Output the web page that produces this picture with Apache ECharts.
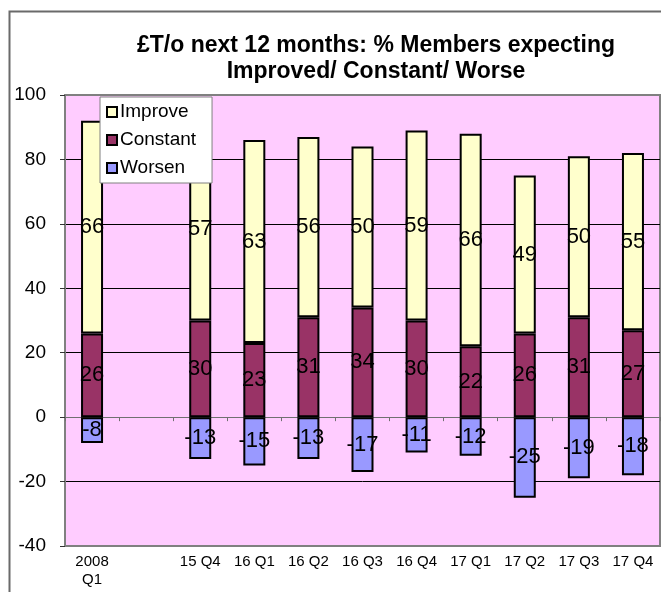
<!DOCTYPE html>
<html>
<head>
<meta charset="utf-8">
<script src="https://cdn.jsdelivr.net/npm/echarts@6/dist/echarts.min.js"></script>
<style>
  html, body { margin: 0; padding: 0; background: #ffffff; }
  #chart { width: 661px; height: 592px; }
</style>
</head>
<body>
<div id="chart"></div>
<script>
// Quarterly survey: share of members expecting turnover to improve / stay constant / worsen
const categories = ['2008\nQ1', '', '15 Q4', '16 Q1', '16 Q2', '16 Q3', '16 Q4', '17 Q1', '17 Q2', '17 Q3', '17 Q4'];
const improve  = [66, null, 57, 63, 56, 50, 59, 66, 49, 50, 55];
const constant = [26, null, 30, 23, 31, 34, 30, 22, 26, 31, 27];
const worsen   = [-8, null, -13, -15, -13, -17, -11, -12, -25, -19, -18];
const yTicks = { min: -40, max: 100, step: 20 };

const FONT = '"Liberation Sans", Arial, sans-serif';

const chart = echarts.init(document.getElementById('chart'), null, { renderer: 'canvas' });

const segLabel = {
  show: true,
  position: 'inside',
  color: '#000',
  fontFamily: FONT,
  fontSize: 22
};

function barSeries(name, data, fill) {
  return {
    name: name,
    type: 'bar',
    stack: 'total',
    data: data,
    barWidth: 22,
    itemStyle: { color: fill, borderColor: '#000', borderWidth: 2 },
    label: segLabel,
    emphasis: { disabled: true },
    animation: false
  };
}

chart.setOption({
  animation: false,
  textStyle: { fontFamily: FONT },
  title: {
    text: '£T/o next 12 months: % Members expecting\nImproved/ Constant/ Worse',
    left: 376,
    top: 33,
    padding: 0,
    textAlign: 'center',
    textStyle: { fontFamily: FONT, fontSize: 23, fontWeight: 'bold', color: '#000', lineHeight: 26 }
  },
  legend: {
    data: ['Improve', 'Constant', 'Worsen'],
    orient: 'vertical',
    left: 100,
    top: 97,
    padding: [5, 16, 5, 6],
    itemGap: 8,
    itemWidth: 10,
    itemHeight: 10,
    icon: 'rect',
    backgroundColor: '#ffffff',
    borderColor: '#808080',
    borderWidth: 1,
    borderRadius: 0,
    selectedMode: false,
    itemStyle: { borderColor: '#000', borderWidth: 2 },
    textStyle: { fontFamily: FONT, fontSize: 19, color: '#000', lineHeight: 20, padding: [0, 0, 0, -2] }
  },
  grid: {
    left: 65,
    right: 1,
    top: 95,
    bottom: 46,
    show: true,
    backgroundColor: '#ffccff',
    borderColor: '#808080',
    borderWidth: 2,
    containLabel: false
  },
  xAxis: [
    {
      type: 'category',
      data: categories,
      position: 'bottom',
      axisLine: { show: false, onZero: false },
      axisTick: { show: false },
      axisLabel: {
        interval: 0,
        margin: 7,
        fontFamily: FONT,
        fontSize: 15,
        lineHeight: 18,
        color: '#000'
      },
      splitLine: { show: false }
    },
    {
      // zero line with category divider ticks
      type: 'category',
      data: categories,
      position: 'top',
      axisLine: { show: true, onZero: true, lineStyle: { color: '#707070', width: 1 } },
      axisTick: { show: true, inside: true, length: 4, lineStyle: { color: '#707070' } },
      axisLabel: { show: false },
      splitLine: { show: false }
    }
  ],
  yAxis: {
    type: 'value',
    min: yTicks.min,
    max: yTicks.max,
    interval: yTicks.step,
    axisLine: { show: true, lineStyle: { color: '#808080', width: 2 } },
    axisTick: { show: true, length: 5, lineStyle: { color: '#333' } },
    axisLabel: { margin: 19, fontFamily: FONT, fontSize: 19, color: '#000' },
    splitLine: {
      show: true,
      lineStyle: {
        color: ['#808080', '#000', '#707070', '#000', '#000', '#000', '#000', '#808080'],
        width: 1
      }
    }
  },
  graphic: [
    {
      type: 'rect',
      left: 7,
      top: 9,
      shape: { width: 700, height: 700 },
      style: { fill: 'none', stroke: '#6a6a6a', lineWidth: 2 },
      silent: true,
      z: 0
    }
  ],
  series: [
    barSeries('Constant', constant, '#993366'),
    barSeries('Improve', improve, '#ffffcc'),
    barSeries('Worsen', worsen, '#9999ff')
  ]
});
</script>
</body>
</html>
